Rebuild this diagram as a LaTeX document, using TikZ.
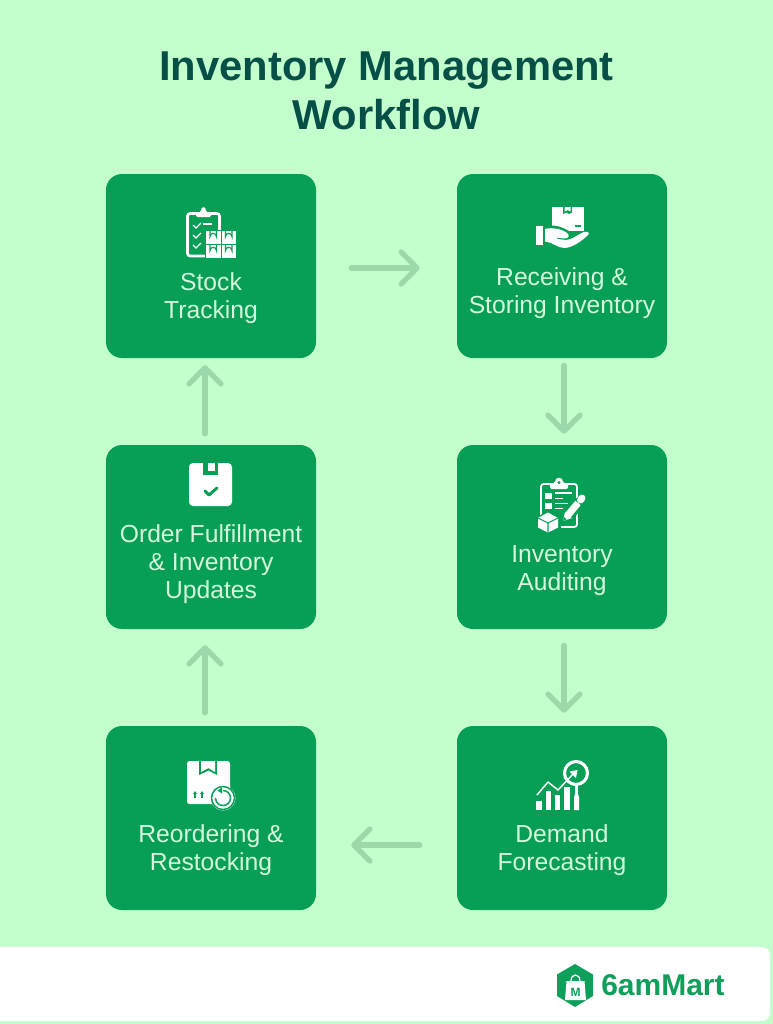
\documentclass[tikz,border=0pt]{standalone}
\usepackage{fontspec}
\setmainfont{Liberation Sans}
\usetikzlibrary{arrows.meta}
\definecolor{bgc}{HTML}{C3FFCC}
\definecolor{boxc}{HTML}{069F55}
\definecolor{arrc}{HTML}{9BD9AA}
\definecolor{titlec}{HTML}{054F47}
\definecolor{labc}{HTML}{D4F8DD}
\definecolor{logoc}{HTML}{0E9F5B}
\tikzset{
  stage/.style={fill=boxc,minimum width=157.5pt,minimum height=138pt,rounded corners=12pt,inner sep=0pt},
  lab/.style={text=labc,align=center,font=\fontsize{18.5}{21}\selectfont,inner sep=0pt},
  flow/.style={draw=arrc,line width=3.9pt,line cap=round,line join=round,-{Straight Barb[length=12pt,width=24pt,round]}},
}
\begin{document}
\begin{tikzpicture}[x=0.75pt,y=-0.75pt]
\useasboundingbox (0,0) rectangle (773,1024);
\fill[bgc] (0,0) rectangle (773,1024);
\fill[white,rounded corners=6pt] (-20,947) rectangle (770,1021);
% title
\node[text=titlec,align=center,font=\fontsize{31.3}{37}\bfseries\selectfont,inner sep=0pt] (title) at (386.5,91) {Inventory Management\\Workflow};
% boxes
\node[stage] (a) at (211,266) {};
\node[stage] (b) at (562,266) {};
\node[stage] (c) at (562,537) {};
\node[stage] (d) at (562,818) {};
\node[stage] (e) at (211,818) {};
\node[stage] (f) at (211,537) {};
% labels
\node[lab] (la) at (211,298.5) {Stock\\Tracking};
\node[lab] (lb) at (562,293.5) {Receiving \&\\Storing Inventory};
\node[lab] (lc) at (562,570.5) {Inventory\\Auditing};
\node[lab] (ld) at (562,850.5) {Demand\\Forecasting};
\node[lab] (le) at (211,850.5) {Reordering \&\\Restocking};
\node[lab] (lf) at (211,564.5) {Order Fulfillment\\\& Inventory\\Updates};
% connectors
\draw[flow,shorten <=26.25pt,shorten >=27.75pt] ([yshift=-1.5pt]a.east) -- ([yshift=-1.5pt]b.west);
\draw[flow,shorten <=5.25pt,shorten >=8.25pt] ([xshift=1.5pt]b.south) -- ([xshift=1.5pt]c.north);
\draw[flow,shorten <=12pt,shorten >=9.75pt] ([xshift=1.5pt]c.south) -- ([xshift=1.5pt]d.north);
\draw[flow,shorten <=27.75pt,shorten >=26.25pt] ([yshift=-20.25pt]d.west) -- ([yshift=-20.25pt]e.east);
\draw[flow,shorten <=9.75pt,shorten >=12pt] ([xshift=-4.5pt]e.north) -- ([xshift=-4.5pt]f.south);
\draw[flow,shorten <=8.25pt,shorten >=5.25pt] ([xshift=-4.5pt]f.north) -- ([xshift=-4.5pt]a.south);
% icon a: clipboard + boxes
\draw[white,line width=2pt,rounded corners=2pt] (187.5,213.5) rectangle (219.5,256);
\fill[white,rounded corners=1pt] (196,217) -- (196,212) -- (201,212) .. controls (201,206) and (206,206) .. (206,212) -- (211,212) -- (211,217) -- cycle;
\foreach \yy in {225,235,245}{\draw[white,line width=1pt] (193,\yy) -- (196,\yy+3) -- (201,\yy-2);}
\draw[white,line width=1pt] (203,224) -- (212,224);
\foreach \xx/\yy in {206/230.5,221.5/230.5,206/244.5,221.5/244.5}{
  \fill[boxc] (\xx-1,\yy-1) rectangle (\xx+15.5,\yy+14);
  \fill[white] (\xx,\yy) rectangle (\xx+14.5,\yy+13);
  \draw[boxc,line width=.9pt] (\xx+4,\yy) -- (\xx+4,\yy+6) arc[start angle=180,end angle=360,radius=3.2] -- (\xx+10.4,\yy);
}
% icon b: hand with parcel
\fill[white] (552,207) rectangle (584,231);
\fill[boxc] (563,207) -- (563,214) -- (566,212.5) -- (569,214) -- (572,212.5) -- (572,207) -- cycle;
\fill[white] (564.5,207) -- (564.5,211.5) -- (567.5,210) -- (570.5,211.5) -- (570.5,207) -- cycle;
\draw[boxc,line width=1pt] (575,226) -- (581,226);
\fill[boxc] (548,226) .. controls (555,224) and (565,228) .. (572,233) -- (590,233) -- (590,240) -- (560,252) -- (545,245) -- cycle;
\fill[white] (536,226) rectangle (543,245);
\fill[white] (545,229) .. controls (552,227) and (562,229) .. (567,233) .. controls (570,235) and (569,239) .. (564,238.5)
  -- (556,237.5) -- (558,239) -- (566,240) .. controls (572,240) and (578,234) .. (584,232) .. controls (588,231) and (590,233) .. (588,235)
  .. controls (582,241) and (572,248) .. (564,248) .. controls (558,248) and (552,242) .. (545,241.5) -- cycle;
% icon c: audit
\draw[white,line width=1.3pt,rounded corners=2pt] (541,484) rectangle (577,527);
\fill[white,rounded corners=1pt] (550,489) -- (550,483) -- (555,483) .. controls (555,476.5) and (563,476.5) .. (563,483) -- (568,483) -- (568,489) -- cycle;
\fill[boxc] (559,482.5) circle (1.6);
\fill[white] (545,493) rectangle (552,499);
\fill[white] (545,503) rectangle (552,509);
\draw[white,line width=1pt] (555,493) -- (571.5,493);
\draw[white,line width=1pt] (555,498.5) -- (563,498.5);
\draw[white,line width=1pt] (555,503.5) -- (568,503.5);
\draw[white,line width=1pt] (555,508.5) -- (563,508.5);
\fill[boxc] (548,511) -- (561,518) -- (561,529) -- (548,535) -- (535,529) -- (535,518) -- cycle;
\fill[white] (548,512.5) -- (558,518) -- (558,527.5) -- (548,532.5) -- (538,527.5) -- (538,518) -- cycle;
\draw[boxc,line width=.8pt] (538,518) -- (548,523) -- (558,518) (548,523) -- (548,532.5);
\draw[boxc,line width=8pt] (565,520) -- (583,499);
\fill[white] (563,521) -- (565,512) -- (572,518) -- cycle;
\fill[boxc] (563,521) -- (564,517) -- (566.5,519.5) -- cycle;
\draw[white,line width=5.2pt] (568,515) -- (578,503);
\draw[white,line width=5.2pt,line cap=round] (580.5,500) -- (582,498);
% icon d: forecast
\fill[white] (536,801) rectangle (542,810);
\fill[white] (546,791) rectangle (551,810);
\fill[white] (555,795) rectangle (560,810);
\fill[white] (564,787) rectangle (570,810);
\fill[white] (574,797) -- (574,810) -- (579,810) -- (579,797) -- (578,794) -- (575,794) -- cycle;
\draw[white,line width=2.3pt] (576,773) circle (11.5);
\fill[white] (574.5,785) rectangle (577.5,794);
\draw[white,line width=1.1pt,line join=round] (537,795) -- (548,782) -- (558,790) -- (574,773);
\fill[white] (577.5,770) -- (569.5,771.5) -- (576,778) -- cycle;
% icon e: box with refresh
\fill[white,rounded corners=2pt] (187,761) rectangle (230,804);
\fill[boxc] (199,761) -- (199,775) -- (208.5,770.5) -- (217,775) -- (217,761) -- cycle;
\fill[white] (201,761) -- (201,772) -- (208.5,768) -- (215,772) -- (215,761) -- cycle;
\foreach \xx in {195,202}{
  \draw[boxc,line width=.9pt] (\xx,798) -- (\xx,793);
  \fill[boxc] (\xx-2,794) -- (\xx,791) -- (\xx+2,794) -- cycle;
}
\fill[white] (223,798) circle (12.5);
\draw[boxc,line width=1.1pt] (223,798) circle (11.5);
\draw[boxc,line width=1.1pt] (223,790.5) arc[start angle=-90,end angle=180,radius=7.5];
\fill[boxc] (222,787.5) -- (222,793.5) -- (217.5,790.5) -- cycle;
% icon f: parcel check
\fill[white,rounded corners=3pt] (189,463) rectangle (232,506);
\fill[boxc] (203,463) -- (203,475) -- (218,475) -- (218,463) -- cycle;
\fill[white] (207.5,463) rectangle (214.5,471);
\draw[boxc,line width=2.2pt,line cap=round,line join=round] (205,491) -- (209,495) -- (217,488);
% logo
\fill[logoc,line join=round] (575,964) -- (593,974.5) -- (593,996) -- (575,1007) -- (557,996) -- (557,974.5) -- cycle;
\fill[white] (566.5,981) -- (584.5,981) -- (586,1000) -- (565,1000) -- cycle;
\draw[white,line width=.9pt] (571,981) .. controls (571,973) and (580,973) .. (580,981);
\node[text=logoc,font=\fontsize{9}{9}\bfseries\selectfont,inner sep=0pt] (logom) at (575.5,992) {M};
\node[text=logoc,anchor=west,font=\fontsize{22.5}{23}\bfseries\selectfont,inner sep=0pt] (logot) at (601,985) {6amMart};
\end{tikzpicture}
\end{document}
